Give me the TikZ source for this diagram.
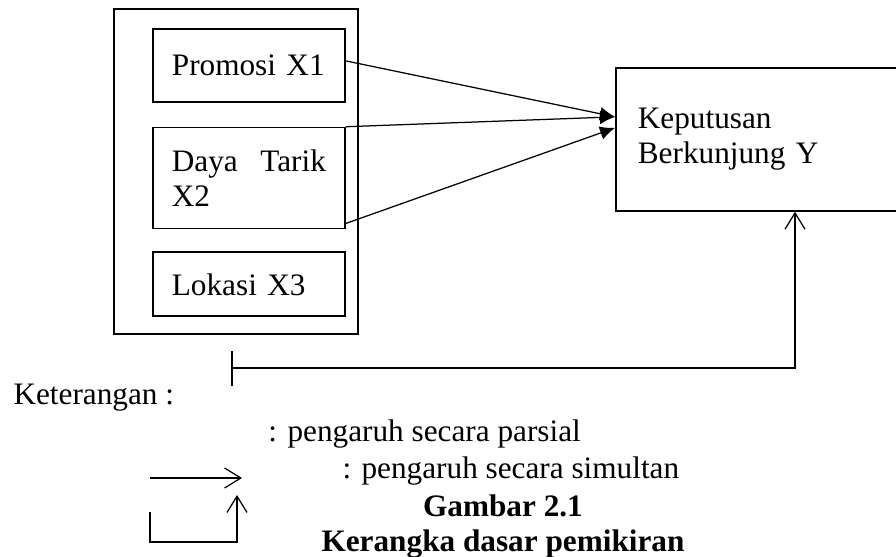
\documentclass[tikz,border=0pt]{standalone}
\usepackage{fontspec}
\setmainfont{Liberation Serif}
\usetikzlibrary{shapes,arrows.meta,positioning}
\newcommand{\figfont}{\fontsize{12.5}{14}\selectfont}
\tikzstyle{block} = [rectangle, draw, line width=0.7pt, text width=61.6pt, inner xsep=7.6pt, align=left, anchor=north west]
\tikzstyle{arrow} = [line width=0.5pt, -{Latex[length=6pt,width=5.5pt]}]
\tikzstyle{openarrow} = [line width=0.5pt, -{Straight Barb[length=6.5pt,width=8pt]}]
\tikzstyle{note} = [inner sep=0pt, anchor=base west, font=\figfont]
\tikzstyle{caption} = [inner sep=0pt, anchor=base, font=\figfont\bfseries]

\begin{document}
\begin{tikzpicture}[x=0.4pt, y=-0.4pt, font=\figfont]
    \useasboundingbox (0,0) rectangle (896,557);
    % Place nodes
    \node [draw, line width=0.7pt, minimum width=97.6pt, minimum height=130pt, anchor=north west] (group) at (113,8) {};
    \node [block, minimum height=29.2pt] (promosi) at (152,28) {Promosi X1};
    \node [block, minimum height=40.4pt, align=justify, below=9.6pt of promosi] (daya) {Daya Tarik X2};
    \node [block, minimum height=25.6pt, below=8.8pt of daya] (lokasi) {Lokasi X3};
    \node [draw, line width=0.7pt, anchor=north west, minimum width=118pt, minimum height=57.2pt, text width=100.4pt, inner xsep=8.8pt, align=left] (kep) at (615,67) {Keputusan\\Berkunjung Y};

    % partial arrows
    \coordinate (in1) at ([yshift=9pt]kep.west);
    \coordinate (in2) at ([yshift=4.6pt]kep.west);
    \draw [arrow] ([yshift=1.8pt]promosi.east) -- (in1);
    \draw [arrow] (daya.north east) -- (in1);
    \draw [arrow] ([yshift=2.4pt]daya.south east) -- (in2);

    % simultaneous arrow
    \coordinate (fbtop) at (232,351);
    \coordinate (fbbot) at (232,386);
    \coordinate (fbstart) at (232,368);
    \coordinate (fbend) at ([xshift=72pt]kep.south west);
    \draw [line width=0.5pt] (fbtop) -- (fbbot);
    \draw [openarrow] (fbstart) -| (fbend);

    % legend
    \node [note] (ket) at (13,405) {Keterangan :};
    \node [note] (parsial) at (268,442) {: pengaruh secara parsial};
    \node [note] (simultan) at (342,479) {: pengaruh secara simultan};
    \node [caption] (gambar) at (503,517) {Gambar 2.1};
    \node [caption] (judul) at (503,552) {Kerangka dasar pemikiran};

    \coordinate (lgA) at (150,478);
    \coordinate (lgB) at (242,478);
    \draw [openarrow] (lgA) -- (lgB);
    \coordinate (lgC) at (150,512);
    \coordinate (lgD) at (237,495);
    \draw [openarrow] (lgC) -- ++(0,30) -| (lgD);

\end{tikzpicture}
\end{document}
